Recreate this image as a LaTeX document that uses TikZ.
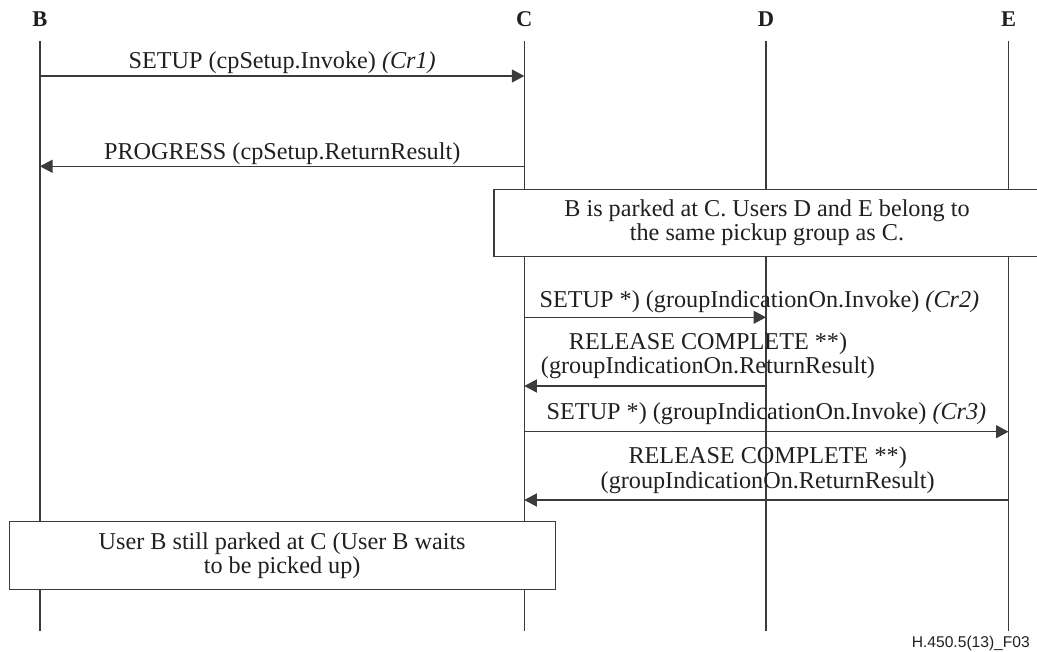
\documentclass[tikz,border=0pt]{standalone}
\usepackage{fontspec}
\setmainfont{Liberation Serif}
\setsansfont{Liberation Sans}
\usetikzlibrary{arrows.meta}
\definecolor{ink}{HTML}{231F20}
\definecolor{rule}{HTML}{3C3A3A}
\begin{document}
\begin{tikzpicture}[x=1pt,y=-1pt,
  lifeline/.style={draw=rule,line width=1.3pt},
  msg/.style={draw=rule,line width=1.3pt,-{Triangle[length=12.5pt,width=13pt]}},
  head/.style={font=\fontsize{22.5}{24}\selectfont\bfseries,text=ink,inner sep=0pt},
  lbl/.style={font=\fontsize{24.2}{24.4}\selectfont,text=ink,inner sep=0pt,align=center},
  notebox/.style={draw=rule,line width=1.3pt,fill=white,inner sep=0pt,
    minimum width=546pt,minimum height=67.5pt,
    font=\fontsize{24.2}{24.4}\selectfont,text=ink,align=center},
  footer/.style={font=\sffamily\fontsize{15.6}{17}\selectfont,text=ink,inner sep=0pt},
]
\useasboundingbox (0,0) rectangle (1037,652);

% entity names
\node[head] (hB) at (40,19.5) {B};
\node[head] (hC) at (524.3,19.5) {C};
\node[head] (hD) at (766,19.5) {D};
\node[head] (hE) at (1008.5,19.5) {E};

% lifelines
\foreach \n/\x in {B/40,C/524.3,D/766,E/1008.5} {
  \coordinate (\n0) at (\x,41.5);
  \coordinate (\n1) at (\x,630.7);
  \draw[lifeline] (\n0) -- (\n1);
}

% B -> C : SETUP
\coordinate (s1B) at (40,76);
\coordinate (s1C) at (524.3,76);
\draw[msg] (s1B) -- (s1C);
\node[lbl,anchor=base] (t1) at (282.2,68.3) {SETUP (cpSetup.Invoke) \textit{(Cr1)}};

% C -> B : PROGRESS
\coordinate (s2C) at (524.3,166.3);
\coordinate (s2B) at (40,166.3);
\draw[msg] (s2C) -- (s2B);
\node[lbl,anchor=base] (t2) at (282.2,159.3) {PROGRESS (cpSetup.ReturnResult)};

% parking note
\node[notebox] (n1) at (767,223) {B is parked at C. Users D and E belong to\\the same pickup group as C.};

% C -> D : SETUP
\coordinate (s3C) at (524.3,317.3);
\coordinate (s3D) at (766,317.3);
\draw[msg] (s3C) -- (s3D);
\node[lbl,anchor=base west] (t3) at (539.5,307.7) {SETUP *) (groupIndicationOn.Invoke) \textit{(Cr2)}};

% D -> C : RELEASE COMPLETE
\coordinate (s4D) at (766,386);
\coordinate (s4C) at (524.3,386);
\draw[msg] (s4D) -- (s4C);
\node[lbl,anchor=south] (t4) at (708,379.2) {RELEASE COMPLETE **)\\(groupIndicationOn.ReturnResult)};

% C -> E : SETUP
\coordinate (s5C) at (524.3,431.7);
\coordinate (s5E) at (1008.5,431.7);
\draw[msg] (s5C) -- (s5E);
\node[lbl,anchor=base] (t5) at (766.5,420) {SETUP *) (groupIndicationOn.Invoke) \textit{(Cr3)}};

% E -> C : RELEASE COMPLETE
\coordinate (s6E) at (1008.5,500);
\coordinate (s6C) at (524.3,500);
\draw[msg] (s6E) -- (s6C);
\node[lbl,anchor=south] (t6) at (767.7,493.5) {RELEASE COMPLETE **)\\(groupIndicationOn.ReturnResult)};

% waiting note
\node[notebox] (n2) at (282.15,555.5) {User B still parked at C (User B waits\\to be picked up)};

% figure reference
\node[footer,anchor=base east] (fig) at (1030,647.3) {H.450.5(13)\_F03};
\end{tikzpicture}
\end{document}
